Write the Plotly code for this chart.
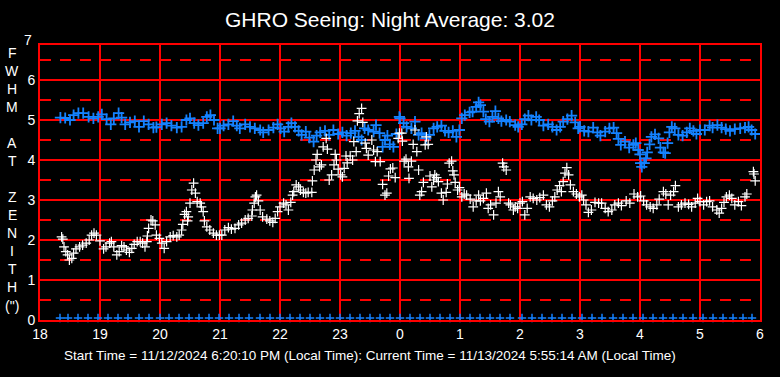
import plotly.graph_objects as go

# ---------------- data (hours on a continuous 18..30 scale) ----------------
blue_t = [18.34, 18.42, 18.50, 18.56, 18.64, 18.72, 18.81, 18.89, 18.97, 19.03, 19.11, 19.18, 19.23, 19.31,
          19.36, 19.42, 19.50, 19.58, 19.65, 19.73, 19.81, 19.89, 19.94, 20.03, 20.11, 20.19, 20.28, 20.36,
          20.44, 20.50, 20.57, 20.64, 20.72, 20.78, 20.84, 20.90, 20.96,
          21.00, 21.06, 21.14, 21.22, 21.28, 21.33, 21.42, 21.50, 21.58, 21.67, 21.72, 21.81, 21.89, 21.96,
          22.01, 22.07, 22.14, 22.19, 22.25, 22.31, 22.36, 22.43, 22.49, 22.56, 22.61, 22.67, 22.75, 22.82,
          22.89, 22.97, 23.04, 23.11, 23.18, 23.25, 23.31, 23.36, 23.41, 23.47, 23.56, 23.60, 23.66, 23.71,
          23.75, 23.79, 23.83, 23.89, 23.94, 23.99,
          24.00, 24.06, 24.11, 24.19, 24.25, 24.31, 24.36, 24.43, 24.49, 24.56, 24.62, 24.69, 24.75, 24.81,
          24.88, 24.94, 24.99, 25.03, 25.08, 25.16, 25.21, 25.27, 25.31, 25.34, 25.39, 25.43, 25.49, 25.54,
          25.59, 25.64, 25.69, 25.77, 25.83, 25.92, 25.97, 26.03, 26.08, 26.14, 26.19, 26.27, 26.32, 26.39,
          26.47, 26.54, 26.61, 26.67, 26.72, 26.79, 26.86, 26.92, 26.97,
          27.00, 27.07, 27.14, 27.22, 27.29, 27.34, 27.42, 27.49, 27.56, 27.61, 27.64, 27.68, 27.75, 27.82,
          27.89, 27.93, 27.97, 28.00, 28.01, 28.03, 28.07, 28.10, 28.12, 28.16, 28.19, 28.25, 28.31, 28.34,
          28.39, 28.42, 28.46, 28.49, 28.53, 28.58, 28.64, 28.71, 28.78, 28.83, 28.89, 28.94, 29.00, 29.08,
          29.16, 29.21, 29.29, 29.36, 29.43, 29.50, 29.58, 29.67, 29.75, 29.81, 29.86, 29.92]
blue_v = [5.06, 5.05, 5.00, 5.12, 5.17, 5.17, 5.08, 5.04, 5.08, 5.14, 5.02, 4.89, 5.04, 5.17,
          5.06, 4.89, 4.94, 4.97, 4.83, 4.97, 4.89, 4.81, 4.82, 4.89, 4.92, 4.86, 4.81, 4.83,
          5.00, 5.04, 4.92, 4.87, 4.92, 5.08, 5.12, 5.00, 4.79,
          4.79, 4.86, 4.89, 4.97, 4.86, 4.79, 4.89, 4.83, 4.79, 4.75, 4.69, 4.75, 4.81, 4.89,
          4.79, 4.71, 4.83, 4.92, 4.83, 4.73, 4.63, 4.71, 4.56, 4.46, 4.61, 4.69, 4.73, 4.63,
          4.75, 4.65, 4.69, 4.61, 4.67, 4.73, 4.58, 4.50, 4.79, 4.75, 4.71, 4.87, 4.67, 4.33,
          4.50, 4.61, 4.39, 4.33, 4.65, 5.08,
          5.04, 4.92, 4.83, 4.79, 4.96, 4.63, 4.67, 4.54, 4.63, 4.79, 4.83, 4.86, 4.73, 4.69,
          4.73, 4.58, 4.75, 5.04, 5.12, 5.19, 5.21, 5.33, 5.44, 5.37, 5.21, 5.02, 4.96, 5.08,
          5.22, 5.04, 4.97, 5.00, 4.96, 4.87, 4.83, 4.89, 5.02, 5.11, 5.00, 5.08, 5.00, 4.86,
          4.89, 4.83, 4.75, 4.83, 4.96, 5.02, 5.11, 4.94, 4.79,
          4.83, 4.73, 4.71, 4.81, 4.69, 4.61, 4.71, 4.79, 4.81, 4.67, 4.53, 4.38, 4.46, 4.31,
          4.38, 4.42, 4.25, 4.14, 3.92, 3.83, 3.92, 4.04, 4.19, 4.39, 4.58, 4.64, 4.54, 4.31,
          4.19, 4.17, 4.42, 4.69, 4.83, 4.79, 4.63, 4.61, 4.69, 4.79, 4.73, 4.65, 4.75, 4.75,
          4.86, 4.81, 4.87, 4.81, 4.77, 4.73, 4.77, 4.79, 4.81, 4.83, 4.75, 4.65]

white_t = [18.36, 18.38, 18.40, 18.43, 18.46, 18.49, 18.53, 18.56, 18.60, 18.66, 18.71, 18.77, 18.82, 18.86,
           18.90, 18.94, 19.00, 19.06, 19.10, 19.16, 19.19, 19.23, 19.28, 19.32, 19.36, 19.40, 19.44, 19.49,
           19.53, 19.57, 19.62, 19.67, 19.71, 19.75, 19.78, 19.79, 19.81, 19.85, 19.88, 19.92, 19.94, 19.99,
           20.03, 20.07, 20.11, 20.17, 20.22, 20.28, 20.32, 20.36, 20.38, 20.41, 20.44, 20.46, 20.47, 20.50,
           20.53, 20.56, 20.59, 20.62, 20.67, 20.69, 20.72, 20.74, 20.78, 20.83, 20.89, 20.94, 20.99,
           21.03, 21.08, 21.14, 21.19, 21.25, 21.31, 21.36, 21.42, 21.47, 21.53, 21.54, 21.57, 21.59, 21.61,
           21.64, 21.67, 21.71, 21.78, 21.83, 21.88, 21.92, 21.96, 22.00, 22.06, 22.10, 22.14, 22.18, 22.21,
           22.23, 22.27, 22.31, 22.34, 22.39, 22.43, 22.47, 22.53, 22.54, 22.57, 22.60, 22.62, 22.66, 22.69,
           22.72, 22.77, 22.79, 22.82, 22.86, 22.90, 22.92, 22.94, 22.97, 23.01, 23.04, 23.07, 23.10, 23.12,
           23.17, 23.21, 23.23, 23.27, 23.29, 23.32, 23.36, 23.38, 23.42, 23.44, 23.47, 23.53, 23.56, 23.59,
           23.62, 23.67, 23.71, 23.75, 23.78, 23.81, 23.84, 23.88, 23.92, 23.97, 23.99,
           24.03, 24.04, 24.07, 24.10, 24.14, 24.15, 24.19, 24.22, 24.25, 24.28, 24.31, 24.33, 24.36, 24.39,
           24.42, 24.44, 24.47, 24.50, 24.53, 24.56, 24.58, 24.61, 24.64, 24.69, 24.72, 24.77, 24.79, 24.82,
           24.86, 24.88, 24.90, 24.92, 24.96, 24.99, 25.03, 25.07, 25.11, 25.17, 25.22, 25.27, 25.31, 25.34,
           25.39, 25.44, 25.47, 25.51, 25.56, 25.60, 25.64, 25.67, 25.71, 25.73, 25.77, 25.81, 25.84, 25.89,
           25.92, 25.96, 26.00, 26.04, 26.08, 26.12, 26.17, 26.22, 26.28, 26.33, 26.39, 26.44, 26.49, 26.54,
           26.58, 26.62, 26.66, 26.69, 26.72, 26.75, 26.78, 26.81, 26.84, 26.89, 26.94, 26.99,
           27.03, 27.06, 27.10, 27.14, 27.19, 27.25, 27.31, 27.36, 27.42, 27.47, 27.53, 27.58, 27.64, 27.69,
           27.77, 27.83, 27.90, 27.96, 28.01, 28.06, 28.11, 28.17, 28.22, 28.28, 28.32, 28.39, 28.43, 28.47,
           28.51, 28.56, 28.59, 28.64, 28.69, 28.75, 28.81, 28.86, 28.92, 28.96, 29.00, 29.06, 29.11, 29.16,
           29.21, 29.28, 29.32, 29.36, 29.40, 29.44, 29.49, 29.53, 29.58, 29.64, 29.69, 29.75, 29.78, 29.89,
           29.90, 29.92]
white_v = [2.08, 2.02, 1.83, 1.71, 1.63, 1.50, 1.54, 1.67, 1.78, 1.83, 1.87, 1.92, 2.00, 2.12,
           2.17, 2.12, 1.98, 1.78, 1.83, 1.92, 1.96, 1.83, 1.63, 1.71, 1.86, 1.83, 1.75, 1.69,
           1.79, 1.89, 1.96, 1.96, 1.92, 1.83, 1.96, 2.10, 2.29, 2.50, 2.48, 2.38, 2.12, 2.04,
           1.92, 1.79, 1.96, 2.08, 2.11, 2.08, 2.12, 2.25, 2.39, 2.64, 2.71, 2.48, 2.58, 2.92,
           3.25, 3.42, 3.17, 2.96, 2.92, 2.83, 2.71, 2.48, 2.33, 2.25, 2.17, 2.12, 2.12,
           2.12, 2.25, 2.31, 2.27, 2.29, 2.38, 2.42, 2.50, 2.54, 2.60, 2.75, 2.92, 3.08, 3.12,
           2.98, 2.75, 2.58, 2.52, 2.48, 2.44, 2.54, 2.71, 2.83, 2.92, 2.88, 2.75, 2.94, 3.12,
           3.21, 3.38, 3.33, 3.25, 3.19, 3.17, 3.19, 3.19, 3.48, 3.75, 4.00, 4.14, 3.83, 3.88,
           4.33, 4.54, 4.27, 3.50, 3.63, 3.88, 4.14, 4.00, 3.77, 3.63, 3.58, 3.79, 4.10, 3.93,
           4.10, 4.00, 4.46, 4.21, 4.98, 5.16, 5.29, 4.94, 4.42, 4.29, 4.12, 4.50, 4.25, 3.96,
           4.21, 3.96, 3.39, 3.12, 3.17, 3.60, 3.78, 3.80, 3.56, 4.54, 4.67,
           4.67, 4.47, 3.97, 4.02, 3.83, 3.54, 3.97, 4.39, 4.75, 4.21, 3.75, 3.12, 3.21, 3.44,
           4.38, 4.58, 4.39, 3.60, 3.33, 3.50, 3.63, 3.56, 3.46, 3.17, 3.00, 3.19, 3.40, 3.92,
           3.97, 3.73, 3.63, 3.44, 3.25, 3.31, 3.08, 3.15, 3.12, 3.02, 2.83, 2.98, 3.12, 2.98,
           3.04, 3.17, 2.79, 2.88, 2.63, 2.92, 3.21, 3.08, 3.92, 3.83, 3.75, 2.92, 2.88, 2.75,
           2.83, 2.79, 2.92, 2.96, 2.63, 2.79, 3.08, 3.04, 3.00, 3.06, 3.12, 2.88, 2.83, 2.98,
           3.08, 3.25, 3.36, 3.21, 3.46, 3.67, 3.81, 3.63, 3.38, 3.21, 3.15, 3.08,
           3.12, 3.00, 2.88, 2.69, 2.75, 2.94, 2.92, 2.92, 2.79, 2.71, 2.75, 2.88, 2.92, 2.86,
           2.98, 2.92, 3.15, 3.08, 3.10, 2.98, 2.88, 2.83, 2.79, 2.88, 3.02, 3.21, 3.15, 2.88,
           3.12, 3.21, 3.36, 2.83, 2.88, 2.92, 2.89, 2.83, 2.92, 3.04, 2.96, 2.88, 2.96, 2.98,
           2.83, 2.75, 2.67, 2.79, 2.94, 3.08, 3.12, 3.04, 2.88, 2.96, 2.86, 3.08, 3.15, 3.71,
           3.65, 3.48]

# bottom-row markers: minutes after 18:00
bottom_min = [20, 28, 38, 48, 58, 68, 78, 88, 99, 109, 120, 129, 139, 149, 159, 169, 179, 189, 199, 209,
              220, 230, 240, 250, 260, 270, 280, 290, 300, 310, 320, 330, 340, 350, 360, 370, 380, 390,
              400, 410, 420, 430, 440, 450, 460, 470,
              482, 492, 502, 512, 522, 532, 542, 552, 562, 573, 583, 593, 603, 613, 623, 633, 643, 653,
              663, 673, 683, 693, 703, 712]
bottom_val = 0.05

current_t = [29.82]
current_v = [6.95]

tick_vals = [18, 19, 20, 21, 22, 23, 24, 25, 26, 27, 28, 29, 30]
tick_text = ["18", "19", "20", "21", "22", "23", "0", "1", "2", "3", "4", "5", "6"]

title_text = "GHRO Seeing: Night Average: 3.02"
footer_text = ("Start Time = 11/12/2024 6:20:10 PM (Local Time): "
               "Current Time = 11/13/2024 5:55:14 AM (Local Time)")
ylabel_letters = ["F", "W", "H", "M", "A", "T", "Z", "E", "N", "I", "T", "H", "(\")"]
ylabel_pix = [53, 71, 89, 107, 143, 161, 197, 215, 233, 251, 269, 287, 306]

# ---------------- figure ----------------
BLUE = "#1482FF"
RED = "#FF0000"
FONT = "Liberation Sans, Arial, sans-serif"

fig = go.Figure()
fig.add_trace(go.Scatter(
    x=[18 + m / 60 for m in bottom_min], y=[bottom_val] * len(bottom_min), mode="markers",
    marker=dict(symbol="cross-thin", size=6, line=dict(color=BLUE, width=1.5)),
    cliponaxis=False, hoverinfo="skip"))
fig.add_trace(go.Scatter(
    x=blue_t, y=blue_v, mode="markers",
    marker=dict(symbol="cross-thin", size=8, line=dict(color=BLUE, width=1.8)),
    hoverinfo="skip"))
fig.add_trace(go.Scatter(
    x=white_t, y=white_v, mode="markers",
    marker=dict(symbol="cross-thin", size=7, line=dict(color="white", width=1.2)),
    hoverinfo="skip"))
fig.add_trace(go.Scatter(
    x=current_t, y=current_v, mode="markers", cliponaxis=False,
    marker=dict(symbol="cross", size=7, color="white", line=dict(width=0)),
    hoverinfo="skip"))

annotations = [
    dict(text="7", xref="paper", yref="paper", x=-0.008, y=(320 - 40) / 275, xanchor="right",
         yanchor="middle", showarrow=False, font=dict(family=FONT, size=14, color="white")),
    dict(text=footer_text, xref="paper", yref="paper", x=(370 - 40) / 720, y=(320 - 355) / 275,
         xanchor="center", yanchor="middle", showarrow=False,
         font=dict(family=FONT, size=13.5, color="white")),
]
for ch, py in zip(ylabel_letters, ylabel_pix):
    annotations.append(dict(text=ch, xref="paper", yref="paper", x=(12 - 40) / 720, y=(320 - py) / 275,
                            xanchor="center", yanchor="middle", showarrow=False,
                            font=dict(family=FONT, size=14, color="white")))

fig.update_layout(
    width=780, height=377,
    margin=dict(l=40, r=20, t=45, b=57),
    paper_bgcolor="black", plot_bgcolor="black",
    showlegend=False,
    title=dict(text=title_text, x=0.5, xanchor="center", y=1 - 20 / 377, yanchor="middle",
               font=dict(family=FONT, size=21, color="white")),
    annotations=annotations,
    xaxis=dict(range=[18, 30], tickvals=tick_vals, ticktext=tick_text, showgrid=True,
               gridcolor=RED, gridwidth=2, zeroline=False, showline=True, mirror=True,
               linecolor=RED, linewidth=2, ticks="", tickfont=dict(family=FONT, size=14, color="white")),
    yaxis=dict(range=[0, 6.875], tickvals=[0, 1, 2, 3, 4, 5, 6], showgrid=True,
               gridcolor=RED, gridwidth=2, zeroline=False, showline=True, mirror=True,
               linecolor=RED, linewidth=2, ticks="", tickfont=dict(family=FONT, size=14, color="white"),
               minor=dict(tickvals=[0.5, 1.5, 2.5, 3.5, 4.5, 5.5, 6.5], showgrid=True, gridcolor=RED,
                          gridwidth=2, griddash="11px,9px")),
)

fig.write_html("out.html", config={"displayModeBar": False},
               post_script="document.body.style.margin='0';document.body.style.background='black';")
